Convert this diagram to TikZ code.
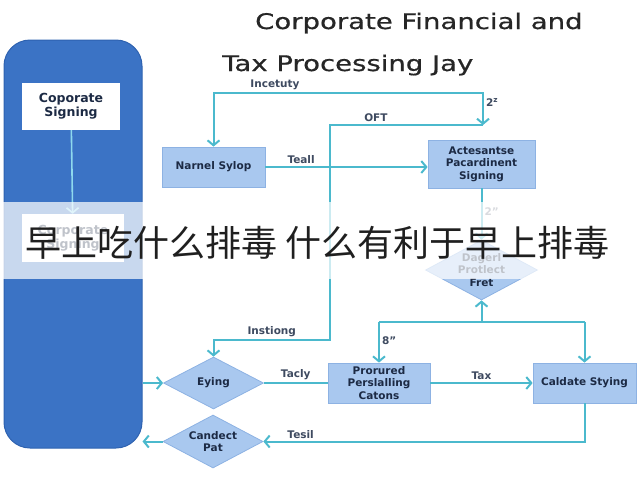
\documentclass[tikz,border=0pt]{standalone}
\usepackage{fontspec}
\setmainfont{DejaVu Sans}
\newfontfamily\titlefont[FakeStretch=1.28, FakeBold=0.6]{DejaVu Sans}
\newfontfamily\cjk{Noto Sans CJK SC}
\usetikzlibrary{
    shapes.geometric,
    arrows.meta,
    positioning,
    calc
}
\definecolor{panel}{HTML}{3B73C5}
\definecolor{paneledge}{HTML}{2E62B0}
\definecolor{boxfill}{HTML}{A9C8EF}
\definecolor{boxedge}{HTML}{8DB2E3}
\definecolor{wire}{HTML}{4BB9CD}
\definecolor{softwire}{HTML}{8ED9EE}
\definecolor{ink}{HTML}{1C2A44}
\tikzset{
    % Process box style
    procbox/.style={
        rectangle,
        draw=boxedge,
        fill=boxfill,
        line width=0.8pt,
        align=center,
        inner sep=1pt,
        font=\fontsize{10.5}{12.5}\selectfont\bfseries,
        text=ink
    },
    % Decision style
    decision/.style={
        diamond,
        shape aspect=1.9,
        draw=boxedge,
        fill=boxfill,
        line width=0.8pt,
        align=center,
        inner sep=-10pt,
        font=\fontsize{10.5}{12.5}\selectfont\bfseries,
        text=ink
    },
    % Side panel style
    sidepanel/.style={
        rectangle,
        rounded corners=26pt,
        draw=paneledge,
        fill=panel,
        line width=1pt
    },
    % White card style
    card/.style={
        rectangle,
        fill=white,
        align=center,
        font=\fontsize{12.5}{14}\selectfont\bfseries,
        text=ink
    },
    % Arrow styles
    flow/.style={
        -{Straight Barb[length=5pt, width=12pt]},
        line width=2pt,
        color=wire
    },
    twoway/.style={
        {Straight Barb[length=5pt, width=12pt]}-{Straight Barb[length=5pt, width=12pt]},
        line width=2pt,
        color=wire
    },
    link/.style={
        line width=2pt,
        color=wire
    },
    % Label style
    label text/.style={
        font=\fontsize{10.5}{12}\selectfont\bfseries,
        text=ink!85,
        inner sep=2pt
    },
    % Title style
    section title/.style={
        font=\titlefont\fontsize{21.5}{26}\selectfont,
        text=black!85,
        anchor=base west,
        inner sep=0pt
    }
}
\begin{document}
\begin{tikzpicture}[x=1pt, y=-1pt]
        \useasboundingbox (0,0) rectangle (640,480);

        % Title
        \node[section title] (title1) at (255,29) {Corporate Financial and};
        \node[section title] (title2) at (222,71) {Tax Processing Jay};

        % Side panel
        \node[sidepanel, minimum width=138pt, minimum height=408pt] (panel) at (73,244) {};
        \node[card, minimum width=98pt, minimum height=47pt] (sign1) at (71,106.5) {Coporate\\Signing};
        \node[card, minimum width=102pt, minimum height=48pt] (sign2) at (73,238) {Corporate\\Signing};
        \draw[flow, color=softwire, line width=1.6pt] (sign1) -- (sign2);

        % Process nodes
        \node[procbox, minimum width=103pt, minimum height=40pt] (narnel) at (213.5,167) {Narnel Sylop};
        \node[procbox, minimum width=107pt, minimum height=48pt] (actes) at (481.5,164) {Actesantse\\Pacardinent\\Signing};
        \node[decision, minimum width=112pt, minimum height=60pt] (fret) at (481.5,270) {Dagerl\\Protlect\\Fret};
        \node[procbox, minimum width=102pt, minimum height=40pt] (prorured) at (379,383) {Prorured\\Perslalling\\Catons};
        \node[procbox, minimum width=103pt, minimum height=40pt] (caldate) at (584.5,383) {Caldate Stying};
        \node[decision, minimum width=100pt, minimum height=52pt] (eying) at (213.5,383) {Eying};
        \node[decision, minimum width=100pt, minimum height=53pt] (candect) at (213,441.5) {Candect\\Pat};

        % Junctions
        \coordinate (oft) at (483,125);
        \coordinate (bendtop) at (330,125);
        \coordinate (bendlow) at (330,340);
        \coordinate (split) at (481.5,322);

        % Upper loop
        \draw[twoway] (narnel.north) -- ++(0,-54) -| node[label text, above, pos=0.114] {Incetuty} node[label text, right, pos=0.66] {2\textsuperscript{z}} (oft);
        \draw[flow] (oft) -- node[label text, above, pos=0.7] {OFT} (bendtop) -- (bendlow) -| node[label text, above, pos=0.25] {Instiong} (eying.north);
        \draw[flow] (narnel.east) -- node[label text, above, pos=0.22] {Teall} (narnel.east -| actes.west);
        \draw[flow] (actes) -- node[label text, right, pos=0.45, text=ink!60] {2"} (fret);

        % Lower split
        \draw[flow] (split) -- (fret);
        \draw[link] (prorured.north |- split) -- (caldate.north |- split);
        \draw[flow] (prorured.north |- split) -- node[label text, right, pos=0.45] {8"} (prorured.north);
        \draw[flow] (caldate.north |- split) -- (caldate.north);

        % Bottom row
        \draw[link] (eying.east) -- node[label text, above] {Tacly} (prorured.west);
        \draw[flow] (prorured) -- node[label text, above] {Tax} (caldate);
        \draw[flow] (caldate.south) |- node[label text, above, pos=0.942] {Tesil} (candect.east);
        \draw[flow] (eying.west -| panel.east) -- (eying.west);
        \draw[flow] (candect.west) -- (candect.west -| panel.east);

        % Banner
        \fill[white, opacity=0.72] (0,202) rectangle (640,279);
        \node[font=\cjk\fontsize{36}{40}\selectfont, text=black!88, inner sep=0pt] (banner) at (318,243) {早上吃什么排毒 什么有利于早上排毒};

\end{tikzpicture}
\end{document}
